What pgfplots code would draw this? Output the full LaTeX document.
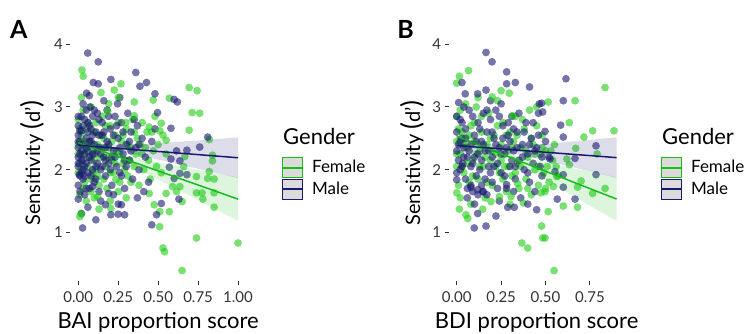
\documentclass[border=0pt]{standalone}
\usepackage{fontspec}
\setmainfont{Lato}
\usepackage{pgfplots}
\pgfplotsset{compat=1.18}
\definecolor{gline}{RGB}{20,190,20}
\definecolor{nline}{RGB}{25,25,112}
\definecolor{gpt}{RGB}{30,205,20}
\definecolor{npt}{RGB}{25,25,112}
\definecolor{keyfill}{RGB}{219,219,219}
\pgfplotsset{
  fpt/.style={only marks, mark=*, color=gpt, mark size=3.9pt, mark options={draw opacity=0, fill=gpt, fill opacity=0.6}, forget plot},
  mpt/.style={only marks, mark=*, color=npt, mark size=3.9pt, mark options={draw opacity=0, fill=npt, fill opacity=0.6}, forget plot},
  fband/.style={draw=none, fill=gline, fill opacity=0.15, forget plot},
  mband/.style={draw=none, fill=nline, fill opacity=0.15, forget plot},
  fline/.style={gline, line width=1.5pt, forget plot},
  mline/.style={nline, line width=1.5pt, forget plot},
  fkey/.style={legend image code/.code={\fill[gline, fill opacity=1] (0pt,-10pt) rectangle (19.5pt,10pt); \fill[keyfill, fill opacity=1] (1pt,-9pt) rectangle (18.5pt,9pt); \fill[gline, fill opacity=1] (0pt,-0.6pt) rectangle (19.5pt,0.6pt);}},
  mkey/.style={legend image code/.code={\fill[nline, fill opacity=1] (0pt,-10pt) rectangle (19.5pt,10pt); \fill[keyfill, fill opacity=1] (1pt,-9pt) rectangle (18.5pt,9pt); \fill[nline, fill opacity=1] (0pt,-0.6pt) rectangle (19.5pt,0.6pt);}},
  panel/.style={
    scale only axis, height=241.3pt, clip mode=individual,
    ymin=0.225, ymax=4.075, ytick={1,2,3,4},
    axis line style={draw=none},
    tick pos=left, tick align=outside,
    major tick length=4pt,
    every tick/.style={black!80, line width=1pt},
    /pgf/number format/assume math mode=true,
    tick label style={font=\fontsize{15}{15}\selectfont, text=black!80},
    xticklabel style={yshift=-3pt, /pgf/number format/fixed, /pgf/number format/fixed zerofill, /pgf/number format/precision=2},
    xlabel style={font=\fontsize{22}{22}\selectfont},
    ylabel style={font=\fontsize{20}{20}\selectfont},
    ylabel={Sensitivity {\fontsize{26}{26}\selectfont(}d\textquoteright{\fontsize{26}{26}\selectfont)}},
    legend style={anchor=north west, draw=none, fill=none, inner sep=0pt, row sep=1pt,
      font=\fontsize{17}{17}\selectfont, nodes={inner sep=1pt},
      /tikz/every odd column/.append style={column sep=9pt}},
    legend cell align=left,
  },
}
\begin{document}
\begin{tikzpicture}
\useasboundingbox (0,0) rectangle (749pt,333pt);
% ---------------- Panel B ----------------
\begin{axis}[panel, at={(448.7pt,52.1pt)}, anchor=south west,
  width=175.9pt, xmin=-0.045, xmax=0.945, xtick={0,0.25,0.5,0.75},
  xlabel={BDI proportion score},
  xlabel style={at={(axis description cs:0.5,-0.170)}, anchor=center},
  ylabel style={at={(axis description cs:-0.209,0.489)}, anchor=center},
  legend style={at={(axis description cs:1.207,0.5135)}},
]
\addplot[fpt] coordinates {(0.00,2.45)(0.00,2.05)(0.00,2.85)(0.01,1.75)(0.02,2.25)(0.03,2.60)(0.04,1.95)(0.05,3.05)(0.06,2.35)(0.07,1.80)(0.08,2.70)(0.09,2.15)(0.10,2.45)(0.11,3.00)(0.12,1.85)(0.13,2.30)(0.14,2.60)(0.15,2.05)(0.16,1.55)(0.17,2.40)(0.18,2.90)(0.19,2.15)(0.20,1.75)(0.21,2.55)(0.22,2.25)(0.23,3.10)(0.24,1.95)(0.25,2.40)(0.26,2.75)(0.27,2.05)(0.28,1.65)(0.29,2.30)(0.30,2.60)(0.31,1.90)(0.32,2.45)(0.33,2.85)(0.34,2.10)(0.35,1.70)(0.36,2.35)(0.38,2.65)(0.39,1.85)(0.40,2.20)(0.41,2.95)(0.42,1.60)(0.43,2.40)(0.44,2.00)(0.45,2.70)(0.46,1.75)(0.47,2.25)(0.48,2.55)(0.49,1.95)(0.50,2.30)(0.51,2.05)(0.52,1.80)(0.54,2.15)(0.55,2.40)(0.57,1.90)
(0.00,2.25)(0.01,2.65)(0.02,2.95)(0.03,2.05)(0.04,2.40)(0.06,2.10)(0.07,2.55)(0.09,1.90)(0.10,2.75)(0.11,2.25)(0.13,2.05)(0.14,2.85)(0.16,2.20)(0.17,1.80)(0.19,2.50)(0.20,2.30)(0.22,2.05)(0.23,2.70)(0.25,2.15)(0.26,1.85)(0.28,2.55)(0.29,2.05)(0.31,2.35)(0.33,1.95)(0.34,2.55)(0.36,2.05)(0.37,2.80)(0.39,2.30)(0.40,1.70)(0.42,2.50)(0.44,2.25)(0.46,2.05)(0.48,2.35)(0.50,1.70)(0.53,2.30)(0.56,2.05)(0.02,1.55)(0.08,1.45)(0.12,3.15)(0.30,1.45)};
\addplot[mpt] coordinates {(0.00,2.30)(0.00,2.60)(0.00,1.95)(0.01,2.15)(0.02,2.45)(0.02,2.80)(0.03,2.05)(0.04,2.35)(0.05,1.85)(0.05,2.65)(0.06,2.20)(0.07,2.95)(0.08,2.40)(0.08,1.75)(0.09,2.10)(0.10,2.55)(0.11,1.90)(0.12,2.75)(0.12,2.25)(0.13,2.00)(0.14,2.45)(0.15,2.90)(0.15,1.65)(0.16,2.30)(0.17,2.60)(0.18,2.05)(0.19,2.80)(0.20,2.20)(0.20,1.80)(0.21,2.50)(0.22,2.95)(0.23,2.10)(0.24,2.35)(0.25,1.95)(0.26,2.70)(0.27,2.25)(0.28,1.70)(0.29,2.55)(0.30,2.05)(0.31,2.85)(0.32,2.30)(0.33,1.85)(0.34,2.60)(0.35,2.15)(0.36,1.55)(0.37,2.40)(0.38,2.00)(0.39,2.75)(0.40,2.25)(0.41,1.80)(0.42,2.50)(0.43,2.10)(0.44,1.65)(0.45,2.35)(0.46,2.90)(0.47,2.05)(0.48,1.90)(0.50,2.45)(0.52,2.20)(0.06,1.55)(0.10,1.45)(0.17,1.60)(0.24,1.50)(0.03,2.50)
(0.01,2.40)(0.02,2.00)(0.03,2.75)(0.04,2.20)(0.05,2.50)(0.06,1.70)(0.07,2.30)(0.08,2.05)(0.09,2.85)(0.10,2.20)(0.11,2.45)(0.12,1.60)(0.13,2.65)(0.14,2.15)(0.15,2.40)(0.16,1.85)(0.17,2.95)(0.18,2.30)(0.19,1.95)(0.20,2.60)(0.21,2.05)(0.22,2.40)(0.23,1.70)(0.24,2.85)(0.25,2.25)(0.26,2.50)(0.27,1.90)(0.28,2.35)(0.29,2.75)(0.30,2.45)(0.31,2.15)(0.32,2.65)(0.33,2.05)(0.34,2.35)(0.35,2.90)(0.37,2.20)(0.38,2.60)(0.40,1.95)(0.41,2.40)(0.43,2.75)(0.44,2.30)(0.46,2.55)(0.48,2.20)(0.00,2.85)(0.04,3.00)(0.09,1.65)(0.14,1.75)(0.19,3.10)(0.25,3.05)(0.32,1.65)};
\addplot[fpt] coordinates {(0.835,3.31)(0.666,3.10)(0.515,3.08)(0.634,2.75)(0.765,2.62)(0.885,2.62)(0.716,2.52)(0.67,2.34)(0.62,2.17)(0.79,2.25)(0.634,2.08)(0.70,1.82)(0.68,1.72)(0.835,1.70)(0.765,1.62)(0.60,1.42)(0.68,1.40)(0.515,1.33)(0.478,1.10)(0.497,0.91)(0.548,0.39)(0.544,1.73)(0.497,1.65)(0.563,1.89)
(0.015,3.49)(0.067,3.58)(0.0,3.38)(0.296,3.22)(0.25,3.26)(0.45,3.0)(0.315,2.86)(0.20,3.16)
(0.0,1.63)(0.015,1.37)(0.052,1.28)(0.062,1.22)(0.146,1.37)(0.193,1.49)(0.367,0.83)(0.40,0.75)(0.484,0.91)(0.474,1.63)(0.375,1.47)(0.306,1.57)(0.24,1.57)(0.343,1.78)};
\addplot[mpt] coordinates {(0.615,3.45)(0.60,3.10)(0.478,3.06)(0.585,2.71)(0.497,2.61)(0.60,2.52)(0.784,2.38)(0.666,2.18)(0.525,2.17)(0.553,1.97)(0.60,1.92)(0.784,1.92)(0.60,1.72)(0.566,1.53)(0.666,1.53)
(0.165,3.87)(0.199,3.72)(0.281,3.56)(0.33,3.39)(0.281,3.37)(0.03,3.39)(0.41,3.32)(0.165,3.27)(0.118,3.21)(0.011,3.07)(0.048,3.21)(0.465,3.05)(0.484,2.92)
(0.099,1.07)(0.165,1.10)(0.118,1.30)(0.221,1.26)(0.287,1.40)(0.324,1.40)(0.45,1.36)(0.40,1.45)(0.118,1.68)(0.08,1.72)(0.146,1.65)(0.0,1.84)(0.281,1.76)(0.034,2.10)};
\addplot[fband] coordinates {(0,2.672)(0.1,2.513)(0.2,2.365)(0.3,2.254)(0.4,2.180)(0.5,2.117)(0.6,2.057)(0.7,1.998)(0.8,1.939)(0.9,1.881)(0.9,1.181)(0.8,1.345)(0.7,1.508)(0.6,1.671)(0.5,1.833)(0.4,1.992)(0.3,2.140)(0.2,2.251)(0.1,2.325)(0,2.388)} -- cycle;
\addplot[fline] coordinates {(0,2.53)(0.9,1.531)};
\addplot[mband] coordinates {(0,2.518)(0.1,2.453)(0.2,2.398)(0.3,2.377)(0.4,2.388)(0.5,2.411)(0.6,2.436)(0.7,2.463)(0.8,2.489)(0.9,2.517)(0.9,1.867)(0.8,1.937)(0.7,2.007)(0.6,2.076)(0.5,2.145)(0.4,2.210)(0.3,2.265)(0.2,2.286)(0.1,2.275)(0,2.252)} -- cycle;
\addplot[mline] coordinates {(0,2.385)(0.9,2.192)};
\addlegendimage{fkey}
\addlegendentry{Female}
\addlegendimage{mkey}
\addlegendentry{Male}
\node[anchor=base west, inner sep=0pt, font=\fontsize{22}{22}\selectfont] at (axis description cs:1.2126,0.567) {Gender};
\node[anchor=north west, inner sep=0pt, font=\bfseries\fontsize{25}{25}\selectfont] at (axis description cs:-0.293,1.081) {B};
\end{axis}
% ---------------- Panel A ----------------
\begin{axis}[panel, at={(70.3pt,52.1pt)}, anchor=south west,
  width=175.7pt, xmin=-0.05, xmax=1.05, xtick={0,0.25,0.5,0.75,1},
  xlabel={BAI proportion score},
  xlabel style={at={(axis description cs:0.5,-0.170)}, anchor=center},
  ylabel style={at={(axis description cs:-0.218,0.489)}, anchor=center},
  legend style={at={(axis description cs:1.205,0.5135)}},
]
% female dense
\addplot[fpt] coordinates {(0.00,2.40)(0.00,1.95)(0.00,2.80)(0.01,2.10)(0.01,1.60)(0.02,2.55)(0.03,2.25)(0.03,2.95)(0.04,1.80)(0.05,2.35)(0.05,2.65)(0.06,2.05)(0.07,2.45)(0.08,1.85)(0.08,3.00)(0.09,2.30)(0.10,2.60)(0.11,2.00)(0.12,2.40)(0.13,1.75)(0.14,2.20)(0.15,2.85)(0.16,2.50)(0.17,2.05)(0.18,1.70)(0.19,2.35)(0.20,2.70)(0.21,2.15)(0.22,1.95)(0.23,2.55)(0.24,2.30)(0.26,1.80)(0.27,2.45)(0.28,2.10)(0.30,2.65)(0.31,1.90)(0.33,2.35)(0.34,2.80)(0.35,2.05)(0.37,2.50)(0.38,1.75)(0.40,2.25)(0.41,2.00)(0.43,2.60)(0.45,1.85)(0.47,2.30)(0.49,2.05)(0.50,2.40)(0.52,1.95)(0.53,2.55)(0.10,1.55)(0.20,1.50)(0.30,1.55)
(0.00,2.25)(0.01,2.65)(0.02,2.00)(0.03,1.70)(0.04,2.45)(0.06,2.75)(0.07,2.20)(0.09,1.95)(0.10,2.15)(0.11,2.75)(0.12,1.90)(0.14,2.55)(0.15,2.35)(0.17,2.70)(0.18,2.20)(0.20,1.95)(0.21,2.45)(0.23,2.10)(0.25,2.75)(0.26,2.25)(0.28,2.55)(0.29,2.00)(0.31,2.40)(0.32,2.15)(0.35,2.60)(0.36,2.25)(0.39,2.40)(0.42,2.35)(0.44,2.15)(0.46,2.60)(0.02,3.15)(0.05,1.50)(0.08,1.65)(0.16,1.85)(0.19,3.05)(0.25,1.65)(0.33,1.80)(0.40,2.75)(0.48,2.85)(0.55,2.25)};
% male dense
\addplot[mpt] coordinates {(0.00,2.20)(0.00,2.35)(0.00,2.05)(0.00,1.75)(0.00,2.55)(0.00,2.70)(0.01,1.90)(0.01,2.45)(0.02,2.15)(0.02,2.30)(0.02,2.62)(0.03,1.85)(0.03,2.00)(0.03,2.40)(0.04,2.25)(0.04,2.80)(0.04,1.60)(0.05,2.10)(0.05,2.50)(0.05,2.95)(0.06,1.95)(0.06,2.30)(0.07,2.70)(0.07,1.70)(0.08,2.15)(0.08,2.45)(0.09,2.00)(0.09,2.85)(0.10,2.25)(0.10,1.80)(0.11,2.60)(0.12,2.10)(0.12,2.90)(0.13,2.35)(0.13,1.65)(0.14,2.00)(0.15,2.55)(0.15,2.75)(0.16,2.20)(0.17,1.90)(0.18,2.45)(0.18,2.95)(0.19,2.10)(0.20,2.65)(0.21,1.75)(0.22,2.30)(0.23,2.85)(0.24,2.05)(0.25,2.50)(0.26,1.95)(0.27,2.75)(0.28,2.25)(0.29,1.70)(0.30,2.40)(0.31,2.90)(0.32,2.15)(0.33,2.60)(0.34,1.85)(0.36,2.35)(0.37,2.70)(0.38,2.00)(0.40,2.50)(0.42,2.20)(0.44,1.80)(0.46,2.45)(0.48,2.65)(0.14,1.50)(0.06,1.40)(0.25,1.45)(0.02,1.30)
(0.01,2.25)(0.02,1.95)(0.03,2.70)(0.04,2.05)(0.05,2.35)(0.06,2.60)(0.07,2.20)(0.08,1.90)(0.09,2.55)(0.10,2.40)(0.11,2.05)(0.12,2.30)(0.13,2.80)(0.14,2.25)(0.16,2.60)(0.17,2.35)(0.19,2.85)(0.20,2.00)(0.22,2.55)(0.23,2.20)(0.26,2.35)(0.28,2.60)(0.30,2.05)(0.32,2.45)(0.35,2.80)(0.01,2.62)(0.02,2.85)(0.03,2.15)(0.04,1.90)(0.05,1.70)(0.06,2.75)(0.07,2.45)(0.08,2.65)(0.09,2.25)(0.11,1.85)(0.13,2.55)(0.15,2.05)(0.17,2.15)(0.19,2.40)(0.21,2.20)(0.24,2.70)(0.27,1.90)(0.29,2.15)(0.33,2.30)(0.38,2.40)(0.00,2.45)(0.00,2.10)(0.01,1.65)(0.03,3.05)(0.10,2.95)(0.16,3.10)(0.22,1.60)(0.26,3.15)};
% female sparse
\addplot[fpt] coordinates {(0.694,3.31)(0.744,3.26)(0.713,2.91)(0.76,2.90)(0.694,2.63)(0.82,2.48)(0.84,2.23)(0.84,2.14)(0.82,1.97)(0.81,1.86)(0.85,1.85)(0.74,1.89)(0.74,1.63)(0.775,1.63)(0.78,1.53)(0.85,1.63)(0.85,1.40)(0.74,0.91)(1.0,0.83)(0.54,0.69)(0.65,0.39)(0.57,1.33)(0.55,1.62)(0.615,1.65)(0.65,1.49)(0.66,2.05)(0.57,3.14)(0.52,2.74)(0.51,1.09)(0.636,1.73)(0.59,1.73)(0.55,2.47)(0.667,2.21)
(0.023,3.59)(0.031,3.49)(0.267,3.37)(0.142,3.23)(0.225,3.27)(0.25,3.15)(0.35,3.08)(0.469,3.11)(0.444,2.68)(0.51,2.62)(0.184,2.93)(0.298,2.75)(0.35,2.86)
(0.017,1.30)(0.01,1.25)(0.13,1.37)(0.204,1.38)(0.12,1.57)(0.235,1.84)(0.475,1.44)(0.53,0.75)(0.444,1.62)(0.51,1.33)};
% male sparse
\addplot[mpt] coordinates {(0.60,3.12)(0.62,3.08)(0.58,2.66)(0.81,2.52)(0.76,2.36)(0.68,2.31)(0.615,2.30)(0.58,2.17)(0.636,2.14)(0.636,1.94)(0.68,1.92)(0.60,1.86)(0.57,2.04)(0.63,1.53)(0.52,1.46)
(0.059,3.86)(0.125,3.72)(0.36,3.55)(0.204,3.44)(0.094,3.39)(0.125,3.37)(0.427,3.39)(0.386,3.33)(0.48,3.21)(0.052,3.22)(0.069,3.18)(0.246,3.05)(0.496,2.91)(0.0,2.85)(0.073,3.0)
(0.027,1.07)(0.11,1.20)(0.204,1.28)(0.25,1.29)(0.29,1.28)(0.27,1.44)(0.17,1.44)(0.0,1.53)(0.46,1.12)(0.49,1.28)(0.37,1.55)(0.19,1.62)(0.006,1.92)(0.09,1.73)(0.41,1.65)};
% bands
\addplot[fband] coordinates {(0,2.529)(0.1,2.406)(0.2,2.30)(0.3,2.226)(0.4,2.169)(0.5,2.117)(0.6,2.068)(0.7,2.019)(0.8,1.971)(0.9,1.923)(1.0,1.875)(1.0,1.185)(0.9,1.317)(0.8,1.449)(0.7,1.581)(0.6,1.712)(0.5,1.843)(0.4,1.971)(0.3,2.094)(0.2,2.20)(0.1,2.274)(0,2.331)} -- cycle;
\addplot[fline] coordinates {(0,2.43)(1,1.53)};
\addplot[mband] coordinates {(0,2.485)(0.1,2.434)(0.2,2.40)(0.3,2.394)(0.4,2.405)(0.5,2.42)(0.6,2.438)(0.7,2.457)(0.8,2.476)(0.9,2.495)(1.0,2.515)(1.0,1.865)(0.9,1.925)(0.8,1.984)(0.7,2.043)(0.6,2.102)(0.5,2.16)(0.4,2.215)(0.3,2.266)(0.2,2.30)(0.1,2.306)(0,2.295)} -- cycle;
\addplot[mline] coordinates {(0,2.39)(1,2.19)};
% legend
\addlegendimage{fkey}
\addlegendentry{Female}
\addlegendimage{mkey}
\addlegendentry{Male}
\node[anchor=base west, inner sep=0pt, font=\fontsize{22}{22}\selectfont] at (axis description cs:1.2106,0.567) {Gender};
\node[anchor=north west, inner sep=0pt, font=\bfseries\fontsize{25}{25}\selectfont] at (axis description cs:-0.343,1.081) {A};
\end{axis}
\end{tikzpicture}
\end{document}
